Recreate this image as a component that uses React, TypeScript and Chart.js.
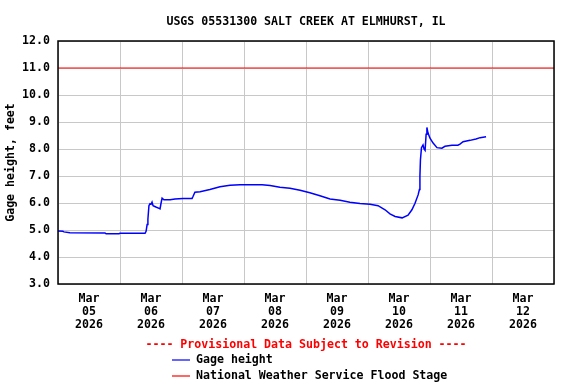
import React, { useEffect, useRef } from "react";
import { Chart, registerables } from "chart.js";

Chart.register(...registerables);

const chartTitle = "USGS 05531300 SALT CREEK AT ELMHURST, IL";
const yAxisTitle = "Gage height, feet";
const provisionalNote = "---- Provisional Data Subject to Revision ----";
const seriesName = "Gage height";
const floodName = "National Weather Service Flood Stage";

// hours since Mar 05 2026 00:00
const hours = [
  0, 1.9, 2.3, 4.6, 18.2, 18.6, 23.6, 24.0, 33.7, 34.1, 34.5, 34.8, 35.2, 35.6,
  36.0, 36.4, 36.8, 37.9, 39.1, 39.5, 39.9, 40.3, 41.0, 43.4, 45.3, 48.4, 51.9,
  52.3, 53.0, 55.0, 58.8, 62.7, 66.6, 70.5, 79.0, 82.1, 85.9, 89.8, 93.7, 97.5,
  101.4, 105.3, 109.2, 113.0, 116.9, 120.8, 123.9, 126.6, 128.5, 130.5, 133.2,
  135.5, 137.0, 138.2, 139.4, 139.9, 140.1, 140.3, 140.7, 141.3, 141.7, 142.1,
  142.5, 142.8, 143.2, 144.0, 145.2, 146.7, 148.6, 149.8, 152.5, 154.8, 155.6,
  156.8, 159.5, 161.8, 163.4, 165.7,
];

const gageHeight = [
  4.96, 4.95, 4.93, 4.9, 4.89, 4.86, 4.86, 4.88, 4.88, 4.95, 5.2, 5.4, 5.9, 5.97,
  5.95, 6.03, 5.9, 5.85, 5.8, 5.78, 6.0, 6.18, 6.12, 6.12, 6.15, 6.17, 6.17,
  6.25, 6.4, 6.42, 6.5, 6.6, 6.66, 6.68, 6.68, 6.65, 6.58, 6.55, 6.47, 6.38,
  6.27, 6.15, 6.1, 6.03, 5.98, 5.95, 5.9, 5.75, 5.6, 5.5, 5.45, 5.55, 5.75,
  5.99, 6.3, 6.5, 7.0, 7.6, 8.05, 8.15, 8.0, 7.95, 8.55, 8.8, 8.6, 8.4, 8.22,
  8.05, 8.03, 8.1, 8.14, 8.14, 8.18, 8.27, 8.32, 8.37, 8.42, 8.45,
];

const floodStage = 11.0;
const dayLabels = ["05", "06", "07", "08", "09", "10", "11", "12"];
const monthLabel = "Mar";
const yearLabel = "2026";

const FONT = "'DejaVu Sans Mono', monospace";

const overlayPlugin = {
  id: "overlay",
  afterDraw(chart: any) {
    const { ctx, chartArea } = chart;
    const { left, right, top, bottom } = chartArea;
    ctx.save();
    // frame
    ctx.strokeStyle = "#000";
    ctx.lineWidth = 1.5;
    ctx.strokeRect(left, top, right - left, bottom - top);
    // title
    ctx.font = `bold 11.6px ${FONT}`;
    ctx.fillStyle = "#000";
    ctx.textAlign = "center";
    ctx.textBaseline = "middle";
    ctx.fillText(chartTitle, (left + right) / 2, 22);
    // provisional note
    ctx.fillStyle = "#ff0000";
    ctx.fillText(provisionalNote, (left + right) / 2, 345);
    // legend
    ctx.textAlign = "left";
    ctx.fillStyle = "#000";
    ctx.lineWidth = 1.2;
    ctx.strokeStyle = "#0000ff";
    ctx.beginPath();
    ctx.moveTo(172, 360);
    ctx.lineTo(190, 360);
    ctx.stroke();
    ctx.fillText(seriesName, 196, 360);
    ctx.strokeStyle = "#ff0000";
    ctx.beginPath();
    ctx.moveTo(172, 376);
    ctx.lineTo(190, 376);
    ctx.stroke();
    ctx.fillText(floodName, 196, 376);
    ctx.restore();
  },
};

export default function App() {
  const ref = useRef<HTMLCanvasElement>(null);

  useEffect(() => {
    if (!ref.current) return;
    const chart = new Chart(ref.current, {
      type: "line",
      data: {
        datasets: [
          {
            label: seriesName,
            data: hours.map((h, i) => ({ x: h, y: gageHeight[i] })),
            borderColor: "#0000ff",
            borderWidth: 1.5,
            pointRadius: 0,
            tension: 0,
            fill: false,
          },
          {
            label: floodName,
            data: [
              { x: 0, y: floodStage },
              { x: 192, y: floodStage },
            ],
            borderColor: "#ff0000",
            borderWidth: 1.2,
            pointRadius: 0,
            fill: false,
          },
        ],
      },
      options: {
        animation: false,
        responsive: true,
        maintainAspectRatio: false,
        layout: { padding: { top: 41, left: 0, right: 22, bottom: 0 } },
        plugins: {
          legend: { display: false },
          title: { display: false },
          tooltip: { enabled: false },
        },
        scales: {
          x: {
            type: "linear",
            min: 0,
            max: 192,
            afterFit: (s: any) => {
              s.height = 100;
            },
            border: { display: false },
            grid: {
              drawTicks: false,
              color: (c: any) =>
                c.tick && c.tick.value % 24 === 0 ? "#c8c8c8" : "rgba(0,0,0,0)",
              lineWidth: 1,
            },
            ticks: {
              stepSize: 12,
              autoSkip: false,
              maxRotation: 0,
              padding: 8,
              color: "#000",
              font: { family: FONT, size: 11.6, weight: "bold", lineHeight: 1.15 },
              callback: (v: any) => {
                const n = Number(v);
                if (n % 24 === 12) {
                  const d = Math.floor(n / 24);
                  return [monthLabel, dayLabels[d], yearLabel];
                }
                return "";
              },
            },
          },
          y: {
            min: 3,
            max: 12,
            afterFit: (s: any) => {
              s.width = 58;
            },
            border: { display: false },
            grid: { drawTicks: false, color: "#c8c8c8", lineWidth: 1 },
            ticks: {
              stepSize: 1,
              padding: 8,
              color: "#000",
              font: { family: FONT, size: 11.6, weight: "bold" },
              callback: (v: any) => Number(v).toFixed(1),
            },
            title: {
              display: true,
              text: yAxisTitle,
              color: "#000",
              padding: { top: 4, bottom: 0 },
              font: { family: FONT, size: 11.6, weight: "bold" },
            },
          },
        },
      },
      plugins: [overlayPlugin],
    });
    return () => chart.destroy();
  }, []);

  return (
    <div style={{ position: "absolute", left: 0, top: 0, width: 576, height: 384, background: "#fff" }}>
      <canvas ref={ref} />
    </div>
  );
}
